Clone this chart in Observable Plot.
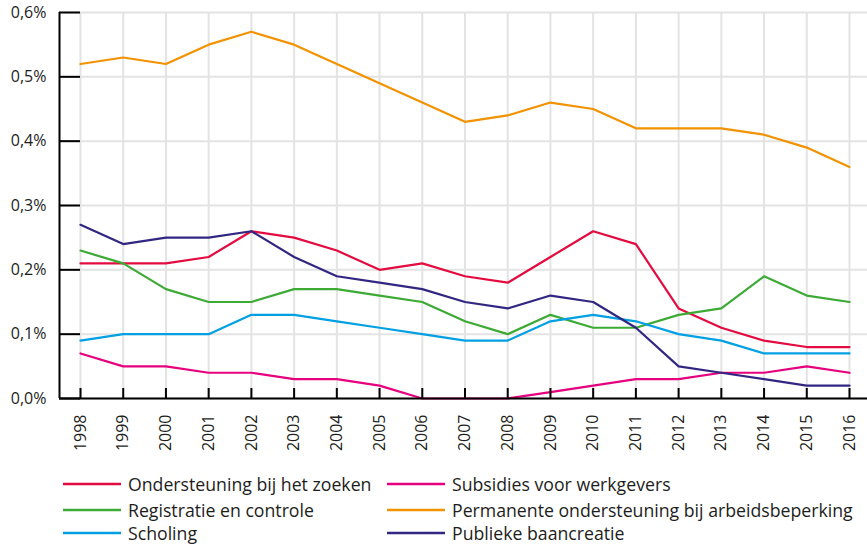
<!DOCTYPE html>
<html><head><meta charset="utf-8">
<script src="https://cdn.jsdelivr.net/npm/d3@7"></script>
<script src="https://cdn.jsdelivr.net/npm/@observablehq/plot@0.6"></script>
<style>
html,body{margin:0;padding:0;background:#fff;font-family:"Open Sans",sans-serif;}
#legend svg{display:block}
</style>
</head><body>
<div id="chart"></div>
<div id="legend"></div>
<script>
const years = [1998,1999,2000,2001,2002,2003,2004,2005,2006,2007,2008,2009,2010,2011,2012,2013,2014,2015,2016];
const zoeken      = [0.21,0.21,0.21,0.22,0.26,0.25,0.23,0.20,0.21,0.19,0.18,0.22,0.26,0.24,0.14,0.11,0.09,0.08,0.08];
const subsidies   = [0.07,0.05,0.05,0.04,0.04,0.03,0.03,0.02,0.00,0.00,0.00,0.01,0.02,0.03,0.03,0.04,0.04,0.05,0.04];
const registratie = [0.23,0.21,0.17,0.15,0.15,0.17,0.17,0.16,0.15,0.12,0.10,0.13,0.11,0.11,0.13,0.14,0.19,0.16,0.15];
const permanente  = [0.52,0.53,0.52,0.55,0.57,0.55,0.52,0.49,0.46,0.43,0.44,0.46,0.45,0.42,0.42,0.42,0.41,0.39,0.36];
const scholing    = [0.09,0.10,0.10,0.10,0.13,0.13,0.12,0.11,0.10,0.09,0.09,0.12,0.13,0.12,0.10,0.09,0.07,0.07,0.07];
const publieke    = [0.27,0.24,0.25,0.25,0.26,0.22,0.19,0.18,0.17,0.15,0.14,0.16,0.15,0.11,0.05,0.04,0.03,0.02,0.02];

const seriesNames = ["Ondersteuning bij het zoeken","Subsidies voor werkgevers","Registratie en controle","Permanente ondersteuning bij arbeidsbeperking","Scholing","Publieke baancreatie"];
const seriesColors = ["#e30b3f","#e6007e","#3daa35","#f39200","#00a0e2","#312782"];
const seriesValues = [zoeken, subsidies, registratie, permanente, scholing, publieke];
const yTicks = [0,0.1,0.2,0.3,0.4,0.5,0.6];

const data = [];
seriesNames.forEach((name, s) => years.forEach((yr, i) => data.push({series: name, year: yr, value: seriesValues[s][i]})));

const fmt = d => d.toFixed(1).replace(".", ",") + "%";

const plot = Plot.plot({
  width: 867, height: 455,
  marginLeft: 59, marginRight: 0, marginTop: 12, marginBottom: 57,
  x: {domain: [years[0], years[years.length - 1]], insetLeft: 21, insetRight: 18},
  y: {domain: [0, 0.6]},
  color: {domain: seriesNames, range: seriesColors},
  style: {fontFamily: "'Open Sans', sans-serif", fontSize: "16px", color: "#1d1d1b", background: "#fff"},
  marks: [
    Plot.ruleY(yTicks, {stroke: "#e3e3e3", strokeWidth: 2}),
    Plot.ruleX(years, {stroke: "#e3e3e3", strokeWidth: 2}),
    Plot.line(data, {x: "year", y: "value", z: "series", stroke: "series", strokeWidth: 2.2}),
    Plot.ruleY(yTicks, {x1: years[0], x2: years[0], insetLeft: -21, stroke: "#000", strokeWidth: 2}),
    Plot.ruleX(years, {y1: 0, y2: 0, insetTop: -10, stroke: "#000", strokeWidth: 2}),
    Plot.ruleY([0], {stroke: "#000", strokeWidth: 2}),
    Plot.ruleX([years[0]], {dx: -21, stroke: "#000", strokeWidth: 2}),
    Plot.axisY({ticks: yTicks, tickFormat: fmt, tickSize: 0, tickPadding: 13, fill: "#1d1d1b", label: null}),
    Plot.axisX({ticks: years, tickFormat: d => String(d), tickRotate: -90, tickSize: 0, tickPadding: 16, fill: "#1d1d1b", label: null})
  ]
});
document.getElementById("chart").appendChild(plot);

// Legend
const legendRows = [[0,1],[2,3],[4,5]];
const colX = [63, 387];
const rowY = [29, 55, 78];
const svg = d3.select("#legend").append("svg").attr("width", 867).attr("height", 90);
legendRows.forEach((row, r) => row.forEach((s, c) => {
  const g = svg.append("g");
  g.append("line").attr("x1", colX[c]).attr("x2", colX[c] + 58).attr("y1", rowY[r]).attr("y2", rowY[r])
    .attr("stroke", seriesColors[s]).attr("stroke-width", 2.5);
  g.append("text").attr("x", colX[c] + 65).attr("y", rowY[r])
    .attr("font-family", "'Open Sans', sans-serif").attr("font-size", 17.7).attr("fill", "#1d1d1b")
    .attr("dominant-baseline", "central").text(seriesNames[s]);
}));
</script>
</body></html>
